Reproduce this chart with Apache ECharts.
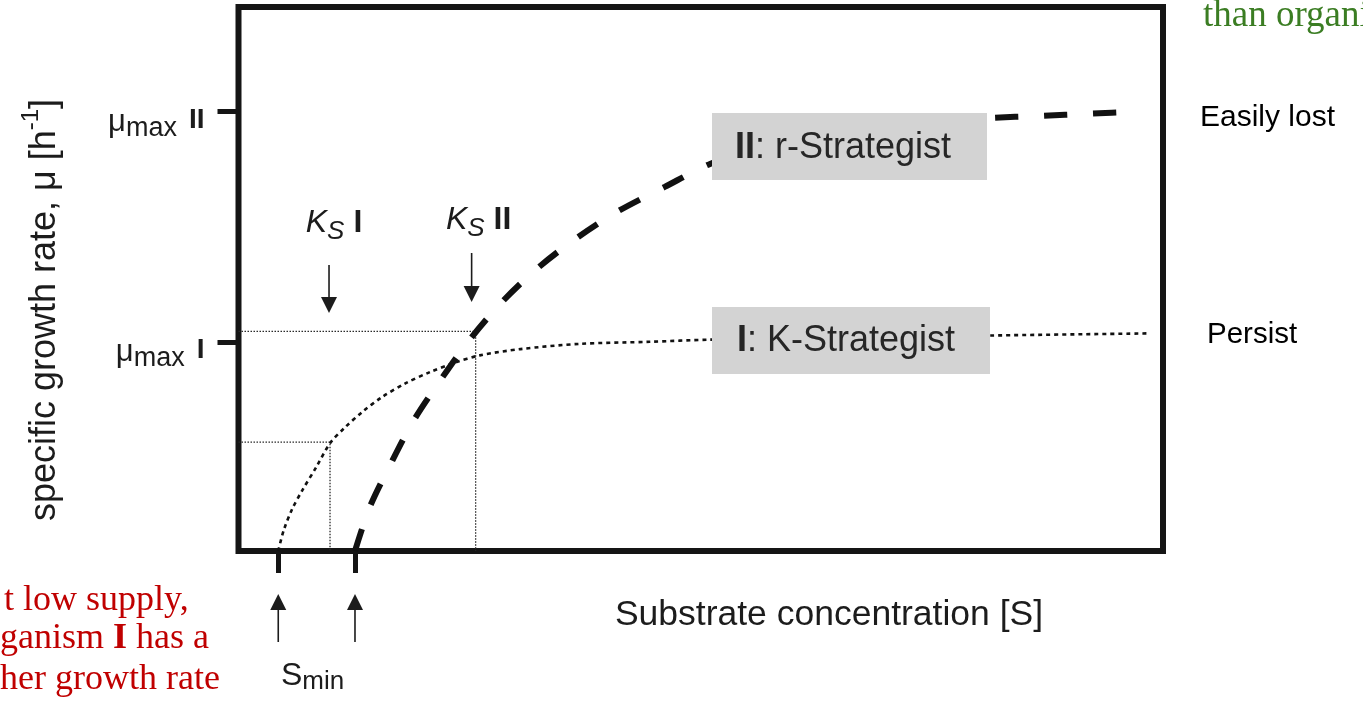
<!DOCTYPE html>
<html>
<head>
<meta charset="utf-8">
<script src="https://cdn.jsdelivr.net/npm/echarts@6/dist/echarts.min.js"></script>
<style>
  html, body { margin: 0; padding: 0; background: #fff; }
  #chart { width: 1363px; height: 703px; }
</style>
</head>
<body>
<div id="chart"></div>
<script>
// Growth kinetics of two organisms: specific growth rate vs substrate concentration.

// Organism II (r-strategist): substrate concentration and growth rate
const rSubstrate = [1.26, 1.42, 1.65, 1.89, 2.19, 2.50, 2.85, 3.23, 3.64, 4.09, 4.61, 5.10, 5.64, 6.29, 6.94, 7.59, 8.13, 8.67, 9.21, 9.75];
const rGrowth    = [0.00, 0.21, 0.42, 0.62, 0.82, 1.01, 1.19, 1.35, 1.49, 1.62, 1.74, 1.85, 1.93, 1.99, 2.03, 2.055, 2.07, 2.08, 2.09, 2.10];

// Organism I (K-strategist)
const kSubstrate = [0.43, 0.49, 0.58, 0.69, 0.84, 0.99, 1.15, 1.34, 1.55, 1.80, 2.07, 2.34, 2.61, 3.05, 3.69, 4.45, 5.10, 6.61, 8.13, 9.84];
const kGrowth    = [0.00, 0.10, 0.20, 0.29, 0.40, 0.515, 0.59, 0.665, 0.735, 0.80, 0.855, 0.90, 0.935, 0.965, 0.99, 1.00, 1.01, 1.02, 1.03, 1.04];

// Characteristic values
const muMax = [1.0, 2.1];          // μmax I, μmax II
const muMaxNames = ['I', 'II'];
const halfMu = [0.52, 1.05];       // growth rate at Ks I, Ks II
const ks = [0.99, 2.565];          // Ks I, Ks II
const sMin = [0.43, 1.26];         // Smin I, Smin II

const FONT = '"Liberation Sans", Arial, Helvetica, sans-serif';
const SERIF = '"Liberation Serif", "Times New Roman", serif';
const INK = '#1c1c1c';
const FRAME = '#151515';

const chart = echarts.init(document.getElementById('chart'));

const zip = (xs, ys) => xs.map((x, i) => [x, ys[i]]);

const option = {
  animation: false,
  backgroundColor: '#ffffff',
  grid: {
    left: 238.5, right: 200, top: 7, bottom: 152,
    show: true, borderColor: FRAME, borderWidth: 6, backgroundColor: 'transparent'
  },
  xAxis: {
    type: 'value', min: 0, max: 10,
    axisLine: { show: false },
    splitLine: { show: false },
    axisLabel: { show: false },
    axisTick: { show: true, customValues: sMin, length: 22, lineStyle: { width: 5, color: FRAME } }
  },
  yAxis: {
    type: 'value', min: 0, max: 2.6,
    axisLine: { show: false },
    splitLine: { show: false },
    axisTick: { show: true, customValues: muMax, length: 21, lineStyle: { width: 5, color: FRAME } },
    axisLabel: {
      customValues: muMax,
      margin: 34,
      padding: [24, 0, 0, 0],
      formatter: v => '{mu|μ}{sub|max}{b|' + muMaxNames[muMax.indexOf(v)] + '}',
      rich: {
        mu:  { fontFamily: FONT, fontSize: 31, color: INK, lineHeight: 34, verticalAlign: 'top' },
        sub: { fontFamily: FONT, fontSize: 27, color: INK, lineHeight: 34, verticalAlign: 'top', padding: [8, 0, 0, 0] },
        b:   { fontFamily: FONT, fontSize: 28, fontWeight: 'bold', color: INK, lineHeight: 34, verticalAlign: 'top', padding: [0, 0, 0, 12] }
      }
    }
  },
  series: [
    {
      name: 'Ks I', type: 'line', silent: true, symbol: 'none', z: 1,
      data: [[0, halfMu[0]], [ks[0], halfMu[0]], [ks[0], 0]],
      lineStyle: { color: '#2a2a2a', width: 1.3, type: [1.5, 1.5] }
    },
    {
      name: 'Ks II', type: 'line', silent: true, symbol: 'none', z: 1,
      data: [[0, halfMu[1]], [ks[1], halfMu[1]], [ks[1], 0]],
      lineStyle: { color: '#2a2a2a', width: 1.3, type: [1.5, 1.5] }
    },
    {
      name: 'I: K-Strategist', type: 'line', silent: true, symbol: 'none', smooth: 0.3, z: 3,
      data: zip(kSubstrate, kGrowth),
      lineStyle: { color: '#111', width: 2.6, type: [4, 4], cap: 'butt' }
    },
    {
      name: 'II: r-Strategist', type: 'line', silent: true, symbol: 'none', smooth: 0.3, z: 3,
      data: zip(rSubstrate, rGrowth),
      lineStyle: { color: '#111', width: 6, type: [23, 26], cap: 'butt' }
    }
  ]
};

chart.setOption(option);

// Annotations: arrows, labels, strategy boxes
function arrow(x, yTail, yTip) {
  const dir = Math.sign(yTip - yTail);
  const head = 16, half = 8;
  return [
    { type: 'line', z: 60, silent: true,
      shape: { x1: x, y1: yTail, x2: x, y2: yTip - dir * head * 0.8 },
      style: { stroke: INK, lineWidth: 1.6 } },
    { type: 'polygon', z: 60, silent: true,
      shape: { points: [[x - half, yTip - dir * head], [x + half, yTip - dir * head], [x, yTip]] },
      style: { fill: INK } }
  ];
}

function label(x, y, text, opts) {
  return {
    type: 'text', x: x, y: y, z: 70, silent: true,
    style: Object.assign({ text: text, fill: INK, font: '35px ' + FONT, align: 'left', verticalAlign: 'middle' }, opts || {})
  };
}

const px = (x, y) => chart.convertToPixel({ gridIndex: 0 }, [x, y]);

const ksRich = {
  k: { fontFamily: FONT, fontSize: 32, fontStyle: 'italic', fill: INK, lineHeight: 36, verticalAlign: 'top' },
  s: { fontFamily: FONT, fontSize: 26, fontStyle: 'italic', fill: INK, lineHeight: 36, verticalAlign: 'top', padding: [12, 0, 0, 0] },
  b: { fontFamily: FONT, fontSize: 32, fontWeight: 'bold', fill: INK, lineHeight: 36, verticalAlign: 'top', padding: [0, 0, 0, 9] }
};

const ksIx = px(ks[0], 0)[0];
const ksIIx = px(ks[1], 0)[0];
const sMinIx = px(sMin[0], 0)[0];
const sMinIIx = px(sMin[1], 0)[0];

const graphics = [];
graphics.push(...arrow(ksIx - 1, 265, 313));
graphics.push(...arrow(ksIIx - 4, 253, 302));
graphics.push(...arrow(sMinIx, 642, 594));
graphics.push(...arrow(sMinIIx, 642, 594));

graphics.push({
  type: 'text', x: ksIx + 4, y: 207, z: 70, silent: true,
  style: { text: '{k|K}{s|S}{b|I}', rich: ksRich, align: 'center', verticalAlign: 'top' }
});
graphics.push({
  type: 'text', x: ksIIx + 3, y: 204, z: 70, silent: true,
  style: { text: '{k|K}{s|S}{b|II}', rich: ksRich, align: 'center', verticalAlign: 'top' }
});

// S_min label between the two thresholds
graphics.push({
  type: 'text', x: (sMinIx + sMinIIx) / 2 - 4, y: 660, z: 70, silent: true,
  style: {
    text: '{s|S}{m|min}', align: 'center', verticalAlign: 'top',
    rich: {
      s: { fontFamily: FONT, fontSize: 32, fill: INK, lineHeight: 36, verticalAlign: 'top' },
      m: { fontFamily: FONT, fontSize: 26, fill: INK, lineHeight: 36, verticalAlign: 'top', padding: [9, 0, 0, 0] }
    }
  }
});

// Strategy boxes
graphics.push({ type: 'rect', z: 65, silent: true, shape: { x: 712, y: 113, width: 275, height: 67 }, style: { fill: '#d3d3d3' } });
graphics.push({ type: 'rect', z: 65, silent: true, shape: { x: 712, y: 307, width: 278, height: 67 }, style: { fill: '#d3d3d3' } });
const boxRich = {
  b: { fontFamily: FONT, fontSize: 36, fontWeight: 'bold', fill: '#262626' },
  n: { fontFamily: FONT, fontSize: 36, fill: '#262626' }
};
graphics.push({ type: 'text', x: 735, y: 148, z: 70, silent: true,
  style: { text: '{b|II}{n|: r-Strategist}', rich: boxRich, align: 'left', verticalAlign: 'middle' } });
graphics.push({ type: 'text', x: 737, y: 341, z: 70, silent: true,
  style: { text: '{b|I}{n|: K-Strategist}', rich: boxRich, align: 'left', verticalAlign: 'middle' } });

// Axis titles
graphics.push(label(829, 615, 'Substrate concentration [S]', { align: 'center', font: '35.5px ' + FONT }));
graphics.push({
  type: 'text', x: 40, y: 310, rotation: Math.PI / 2, z: 70, silent: true,
  style: {
    text: '{n|specific growth rate, μ [h}{sup|-1}{n|]}', align: 'center', verticalAlign: 'middle',
    rich: {
      n:   { fontFamily: FONT, fontSize: 36, fill: INK, lineHeight: 42, verticalAlign: 'top', padding: [8, 0, 0, 0] },
      sup: { fontFamily: FONT, fontSize: 24, fill: INK, lineHeight: 42, verticalAlign: 'top' }
    }
  }
});

// Side notes
graphics.push(label(1200, 118, 'Easily lost', { font: '30px ' + FONT, fill: '#000' }));
graphics.push(label(1207, 335, 'Persist', { font: '29.5px ' + FONT, fill: '#000' }));
graphics.push(label(1203, 16, 'than organisms', { font: '37px ' + SERIF, fill: '#3b7d23' }));

const red = '#c00000';
const redRich = {
  n: { fontFamily: SERIF, fontSize: 36, fill: red },
  b: { fontFamily: SERIF, fontSize: 36, fontWeight: 'bold', fill: red }
};
graphics.push({ type: 'text', x: 4, y: 601, z: 70, silent: true,
  style: { text: '{n|t low supply,}', rich: redRich, align: 'left', verticalAlign: 'middle' } });
graphics.push({ type: 'text', x: 0, y: 639, z: 70, silent: true,
  style: { text: '{n|ganism }{b|I}{n| has a}', rich: redRich, align: 'left', verticalAlign: 'middle' } });
graphics.push({ type: 'text', x: 0, y: 680, z: 70, silent: true,
  style: { text: '{n|her growth rate}', rich: redRich, align: 'left', verticalAlign: 'middle' } });

chart.setOption({ graphic: { elements: graphics } });
</script>
</body>
</html>
